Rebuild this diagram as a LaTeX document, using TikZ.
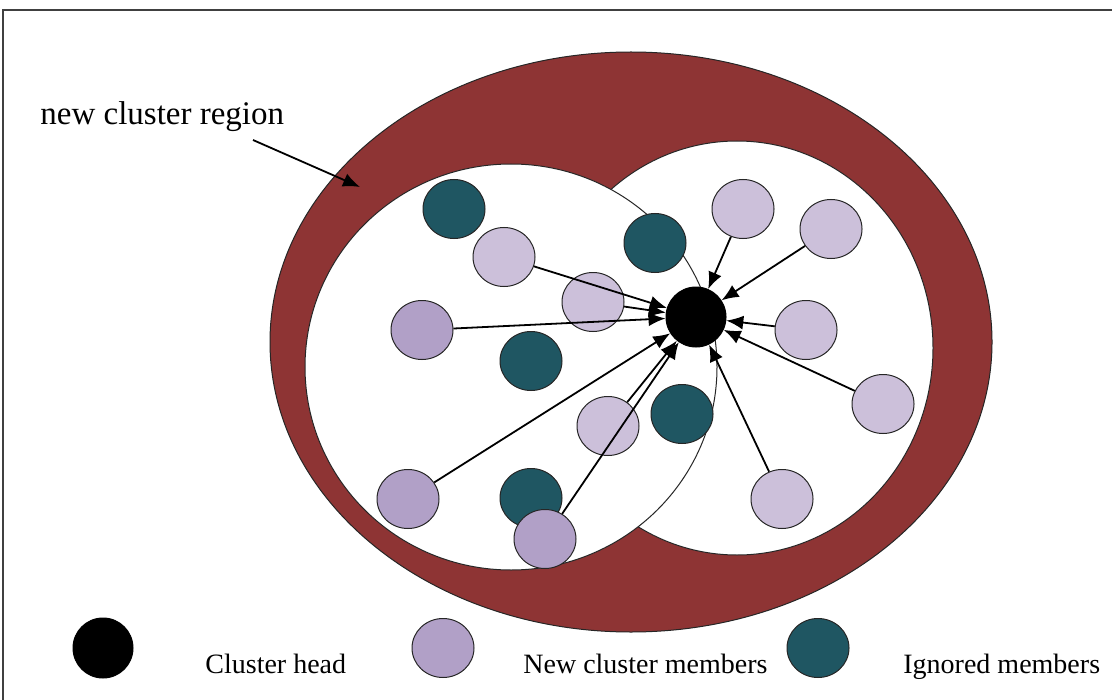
\documentclass[tikz,border=0pt]{standalone}
\usepackage{fontspec}
\setmainfont{Liberation Serif}
\usetikzlibrary{shapes.geometric,arrows.meta}
\definecolor{regionred}{HTML}{8E3434}
\definecolor{ignoredteal}{HTML}{1F5662}
\definecolor{lightlilac}{HTML}{CCC0DA}
\definecolor{darklilac}{HTML}{B1A0C7}
\tikzset{
  member/.style  = {shape=ellipse, draw=black!85, line width=0.5pt, inner sep=0pt,
                    minimum width=31pt, minimum height=29.5pt},
  newnear/.style = {member, fill=lightlilac},
  newfar/.style  = {member, fill=darklilac},
  ignored/.style = {member, fill=ignoredteal},
  chead/.style   = {member, draw=black, fill=black, minimum width=30pt, minimum height=30pt},
  region/.style  = {draw=black!85, line width=0.5pt},
  headlink/.style = {draw, line width=0.9pt, -{Latex[length=8.5pt,width=7pt]}},
  legend/.style  = {anchor=base west, inner sep=0pt, font=\fontsize{14}{16}\selectfont}
}
\begin{document}
\begin{tikzpicture}[x=0.5pt, y=-0.5pt]
  \useasboundingbox (0,0) rectangle (1112,700);
  \draw[line width=1pt, black!75] (3,700) -- (3,10) -- (1112,10);
  \draw[region, fill=regionred] (631,342) ellipse [x radius=361, y radius=290];
  \draw[region, fill=white] (737,348) ellipse [x radius=196, y radius=207];
  \draw[region, fill=white] (511,367) ellipse [x radius=206, y radius=203];

  \node[anchor=base west, inner sep=0pt, font=\fontsize{16.5}{19}\selectfont]
    (regionlbl) at (40,125) {new cluster region};
  \coordinate (lbltail) at (253,140);
  \coordinate (lbltip)  at (360,187);
  \draw[headlink] (lbltail) -- (lbltip);

  \node[chead] (head) at (696,317) {};
  \node[ignored] (t1) at (454,209) {};
  \node[ignored] (t2) at (655,243) {};
  \node[ignored] (t3) at (531,361) {};
  \node[ignored] (t4) at (682,414) {};
  \node[ignored] (t5) at (531,498) {};
  \node[newnear] (a1) at (504,257) {};
  \node[newnear] (a2) at (593,302) {};
  \node[newnear] (a3) at (608,426) {};
  \node[newnear] (a4) at (743,209) {};
  \node[newnear] (a5) at (831,229) {};
  \node[newnear] (a6) at (806,330) {};
  \node[newnear] (a7) at (883,404) {};
  \node[newnear] (a8) at (782,499) {};
  \node[newfar]  (b1) at (422,330) {};
  \node[newfar]  (b2) at (408,499) {};
  \node[newfar]  (b3) at (545,539) {};
  \foreach \m in {a1,a2,a3,a4,a5,a6,a7,a8,b1,b2,b3}
    \draw[headlink] (\m) -- (head);

  \node[chead]   (keyhead) at (103,648) {};
  \node[legend]  (keyheadtxt) at (205,673) {Cluster head};
  \node[newfar]  (keynew) at (443,648) {};
  \node[legend]  (keynewtxt) at (523,673) {New cluster members};
  \node[ignored] (keyign) at (818,648) {};
  \node[legend]  (keyigntxt) at (903,673) {Ignored members};
\end{tikzpicture}
\end{document}
